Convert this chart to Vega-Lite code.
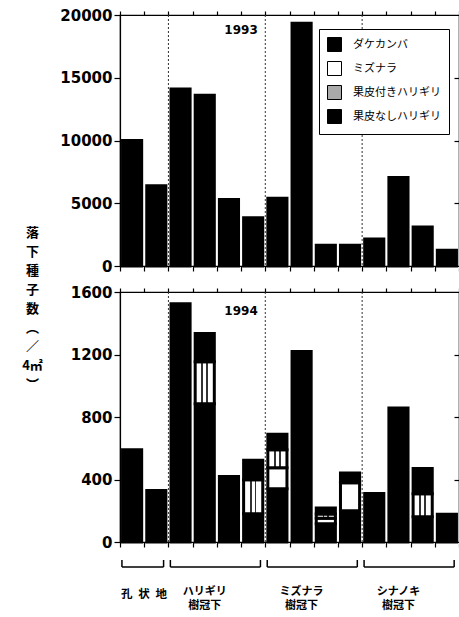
{
  "$schema": "https://vega.github.io/schema/vega-lite/v6.json",
  "background": "white",
  "padding": {"left": 21, "top": 7, "right": 0, "bottom": 0},
  "spacing": 26,
  "bounds": "flush",
  "resolve": {"scale": {"fill": "independent", "x": "independent", "y": "independent"}},
  "config": {
    "view": {"stroke": "black", "strokeWidth": 1.2},
    "font": "Noto Sans CJK JP",
    "axis": {"domainColor": "black", "tickColor": "black", "labelColor": "black", "grid": false, "labelFont": "DejaVu Sans", "labelFontWeight": "bold", "labelFontSize": 15, "tickWidth": 1.2, "domainWidth": 1.2}
  },
  "datasets": {
    "seeds": [
      {"year": 1993, "b": 1, "species": "ダケカンバ", "value": 10000},
      {"year": 1993, "b": 2, "species": "ダケカンバ", "value": 6400},
      {"year": 1993, "b": 3, "species": "ダケカンバ", "value": 14100},
      {"year": 1993, "b": 4, "species": "ダケカンバ", "value": 13600},
      {"year": 1993, "b": 5, "species": "ダケカンバ", "value": 5300},
      {"year": 1993, "b": 6, "species": "ダケカンバ", "value": 3850},
      {"year": 1993, "b": 7, "species": "ダケカンバ", "value": 5400},
      {"year": 1993, "b": 8, "species": "ダケカンバ", "value": 19350},
      {"year": 1993, "b": 9, "species": "ダケカンバ", "value": 1650},
      {"year": 1993, "b": 10, "species": "ダケカンバ", "value": 1650},
      {"year": 1993, "b": 11, "species": "ダケカンバ", "value": 2150},
      {"year": 1993, "b": 12, "species": "ダケカンバ", "value": 7050},
      {"year": 1993, "b": 13, "species": "ダケカンバ", "value": 3100},
      {"year": 1993, "b": 14, "species": "ダケカンバ", "value": 1250},
      {"year": 1994, "b": 1, "species": "ダケカンバ", "value": 590},
      {"year": 1994, "b": 2, "species": "ダケカンバ", "value": 330},
      {"year": 1994, "b": 3, "species": "ダケカンバ", "value": 1525},
      {"year": 1994, "b": 4, "species": "ダケカンバ", "value": 885},
      {"year": 1994, "b": 4, "species": "果皮付きハリギリ", "value": 269},
      {"year": 1994, "b": 4, "species": "果皮なしハリギリ", "value": 180},
      {"year": 1994, "b": 5, "species": "ダケカンバ", "value": 420},
      {"year": 1994, "b": 6, "species": "ダケカンバ", "value": 181},
      {"year": 1994, "b": 6, "species": "果皮付きハリギリ", "value": 218},
      {"year": 1994, "b": 6, "species": "果皮なしハリギリ", "value": 124},
      {"year": 1994, "b": 7, "species": "ダケカンバ", "value": 341},
      {"year": 1994, "b": 7, "species": "ミズナラ", "value": 135},
      {"year": 1994, "b": 7, "species": "果皮付きハリギリ", "value": 115},
      {"year": 1994, "b": 7, "species": "果皮なしハリギリ", "value": 99},
      {"year": 1994, "b": 8, "species": "ダケカンバ", "value": 1220},
      {"year": 1994, "b": 9, "species": "ダケカンバ", "value": 117},
      {"year": 1994, "b": 9, "species": "ミズナラ", "value": 35},
      {"year": 1994, "b": 9, "species": "果皮付きハリギリ", "value": 28},
      {"year": 1994, "b": 9, "species": "果皮なしハリギリ", "value": 38},
      {"year": 1994, "b": 10, "species": "ダケカンバ", "value": 200},
      {"year": 1994, "b": 10, "species": "ミズナラ", "value": 180},
      {"year": 1994, "b": 10, "species": "果皮なしハリギリ", "value": 62},
      {"year": 1994, "b": 11, "species": "ダケカンバ", "value": 310},
      {"year": 1994, "b": 12, "species": "ダケカンバ", "value": 858},
      {"year": 1994, "b": 13, "species": "ダケカンバ", "value": 162},
      {"year": 1994, "b": 13, "species": "果皮付きハリギリ", "value": 147},
      {"year": 1994, "b": 13, "species": "果皮なしハリギリ", "value": 161},
      {"year": 1994, "b": 14, "species": "ダケカンバ", "value": 178}
    ],
    "bounds": [{"b": 3}, {"b": 7}, {"b": 11}],
    "groups": [
      {"group": "孔状地", "first": 1, "last": 2},
      {"group": "ハリギリ樹冠下", "first": 3, "last": 6},
      {"group": "ミズナラ樹冠下", "first": 7, "last": 10},
      {"group": "シナノキ樹冠下", "first": 11, "last": 14}
    ]
  },
  "vconcat": [
    {
      "width": 339,
      "height": 251,
      "layer": [
        {
          "data": {"name": "seeds"},
          "transform": [
            {"filter": "datum.year == 1993"},
            {"calculate": "indexof(['ダケカンバ','ミズナラ','果皮付きハリギリ','果皮なしハリギリ'], datum.species)", "as": "k"}
          ],
          "mark": {"type": "bar", "width": {"band": 0.79}, "stroke": "black", "strokeWidth": 3},
          "encoding": {
            "x": {"field": "b", "type": "ordinal", "scale": {"domain": [1,2,3,4,5,6,7,8,9,10,11,12,13,14], "paddingInner": 0, "paddingOuter": 0},
                  "axis": {"orient": "bottom", "labels": false, "title": null, "tickBand": "extent", "tickSize": 5}},
            "y": {"field": "value", "type": "quantitative", "stack": "zero", "scale": {"domain": [0, 20000], "nice": false},
                  "axis": {"orient": "left", "values": [0, 5000, 10000, 15000, 20000], "format": "d", "tickSize": 6, "labelPadding": 2,
                           "title": ["落", "下", "種", "子", "数", "︵", "／", "4㎡", "︶"],
                           "titleAngle": 0, "titleFont": "Noto Sans CJK JP", "titleFontWeight": "bold", "titleFontSize": 13,
                           "titleLineHeight": 19, "titleAlign": "center", "titleBaseline": "top", "titleX": -88, "titleY": 211, "titleColor": "black"}},
            "fill": {
              "condition": {"test": "datum.species === '果皮付きハリギリ'",
                "value": {"gradient": "linear", "x1": 0, "y1": 0, "x2": 1, "y2": 0,
                  "stops": [{"offset": 0, "color": "white"}, {"offset": 0.33, "color": "white"}, {"offset": 0.33, "color": "#333"}, {"offset": 0.42, "color": "#333"}, {"offset": 0.42, "color": "white"}, {"offset": 0.58, "color": "white"}, {"offset": 0.58, "color": "#333"}, {"offset": 0.67, "color": "#333"}, {"offset": 0.67, "color": "white"}, {"offset": 1, "color": "white"}]}},
              "field": "species", "type": "nominal",
              "scale": {"domain": ["ダケカンバ", "ミズナラ", "果皮付きハリギリ", "果皮なしハリギリ"], "range": ["black", "white", "#aaaaaa", "black"]},
              "legend": {"orient": "none", "legendX": 199, "legendY": 14, "title": null, "strokeColor": "black", "fillColor": "white",
                         "padding": 8, "symbolType": "square", "symbolSize": 196, "symbolStrokeColor": "black", "symbolStrokeWidth": 1,
                         "labelFont": "Noto Sans CJK JP", "labelFontSize": 11, "labelColor": "black", "rowPadding": 5, "labelOffset": 11}
            },
            "order": {"field": "k", "type": "quantitative"}
          }
        },
        {
          "data": {"name": "bounds"},
          "mark": {"type": "rule", "color": "#333", "strokeDash": [2, 2], "strokeWidth": 1},
          "encoding": {
            "x": {"field": "b", "type": "ordinal", "bandPosition": 0,
                  "axis": {"orient": "top", "labels": false, "title": null, "tickBand": "extent", "tickSize": 4, "domain": false}}
          }
        },
        {
          "data": {"values": [{"label": "1993"}]},
          "mark": {"type": "text", "font": "DejaVu Sans", "fontWeight": "bold", "fontSize": 12, "align": "center", "baseline": "middle", "color": "black"},
          "encoding": {
            "x": {"datum": 5, "type": "ordinal", "bandPosition": 1, "axis": null},
            "y": {"datum": 18800, "type": "quantitative", "axis": {"orient": "right", "labels": false, "title": null, "tickSize": 5, "offset": -5, "values": [5000, 10000, 15000], "domain": false}},
            "text": {"field": "label"}
          }
        }
      ]
    },
    {
      "vconcat": [
        {
          "width": 339,
          "height": 250,
          "layer": [
            {
              "data": {"name": "seeds"},
              "transform": [
                {"filter": "datum.year == 1994"},
                {"calculate": "indexof(['ダケカンバ','ミズナラ','果皮付きハリギリ','果皮なしハリギリ'], datum.species)", "as": "k"}
              ],
              "mark": {"type": "bar", "width": {"band": 0.79}, "stroke": "black", "strokeWidth": 3},
              "encoding": {
                "x": {"field": "b", "type": "ordinal", "scale": {"domain": [1,2,3,4,5,6,7,8,9,10,11,12,13,14], "paddingInner": 0, "paddingOuter": 0},
                      "axis": {"orient": "bottom", "labels": false, "title": null, "tickBand": "extent", "tickSize": 5}},
                "y": {"field": "value", "type": "quantitative", "stack": "zero", "scale": {"domain": [0, 1600], "nice": false},
                      "axis": {"orient": "left", "values": [0, 400, 800, 1200, 1600], "format": "d", "tickSize": 6, "labelPadding": 2, "title": null}},
                "fill": {
                  "condition": {"test": "datum.species === '果皮付きハリギリ'",
                    "value": {"gradient": "linear", "x1": 0, "y1": 0, "x2": 1, "y2": 0,
                      "stops": [{"offset": 0, "color": "white"}, {"offset": 0.33, "color": "white"}, {"offset": 0.33, "color": "#333"}, {"offset": 0.42, "color": "#333"}, {"offset": 0.42, "color": "white"}, {"offset": 0.58, "color": "white"}, {"offset": 0.58, "color": "#333"}, {"offset": 0.67, "color": "#333"}, {"offset": 0.67, "color": "white"}, {"offset": 1, "color": "white"}]}},
                  "field": "species", "type": "nominal",
                  "scale": {"domain": ["ダケカンバ", "ミズナラ", "果皮付きハリギリ", "果皮なしハリギリ"], "range": ["black", "white", "#aaaaaa", "black"]},
                  "legend": null
                },
                "order": {"field": "k", "type": "quantitative"}
              }
            },
            {
              "data": {"name": "bounds"},
              "mark": {"type": "rule", "color": "#333", "strokeDash": [2, 2], "strokeWidth": 1},
              "encoding": {
                "x": {"field": "b", "type": "ordinal", "bandPosition": 0,
                      "axis": {"orient": "top", "labels": false, "title": null, "tickBand": "extent", "tickSize": 4, "domain": false}}
              }
            },
            {
              "data": {"values": [{"label": "1994"}]},
              "mark": {"type": "text", "font": "DejaVu Sans", "fontWeight": "bold", "fontSize": 12, "align": "center", "baseline": "middle", "color": "black"},
              "encoding": {
                "x": {"datum": 5, "type": "ordinal", "bandPosition": 1, "axis": null},
                "y": {"datum": 1480, "type": "quantitative", "axis": {"orient": "right", "labels": false, "title": null, "tickSize": 5, "offset": -5, "values": [400, 800, 1200], "domain": false}},
                "text": {"field": "label"}
              }
            }
          ]
        },
        {
          "width": 339,
          "height": 7,
          "view": {"stroke": null},
          "data": {"name": "groups"},
          "resolve": {"axis": {"x": "independent"}},
          "layer": [
            {
              "mark": {"type": "rule", "color": "black", "strokeWidth": 1.5},
              "encoding": {
                "x": {"field": "first", "type": "ordinal", "bandPosition": 0.08,
                      "scale": {"domain": [1,2,3,4,5,6,7,8,9,10,11,12,13,14], "paddingInner": 0, "paddingOuter": 0},
                      "axis": {"orient": "bottom", "values": [4, 8, 12], "title": null, "ticks": false, "domain": false, "labelOffset": 0,
                               "labelExpr": "datum.value == 4 ? ['ハリギリ', '樹冠下'] : datum.value == 8 ? ['ミズナラ', '樹冠下'] : ['シナノキ', '樹冠下']",
                               "labelFont": "Noto Sans CJK JP", "labelFontWeight": "bold", "labelFontSize": 11, "labelLineHeight": 14.5,
                               "labelBaseline": "middle", "labelAngle": 0, "labelPadding": 24, "labelOverlap": false, "labelBound": false, "labelFlush": false}},
                "x2": {"field": "last", "bandPosition": 0.8},
                "y": {"datum": 0, "type": "quantitative", "scale": {"domain": [0, 1]}, "axis": null}
              }
            },
            {
              "mark": {"type": "rule", "color": "black", "strokeWidth": 1.5},
              "encoding": {
                "x": {"field": "first", "type": "ordinal", "bandPosition": 0.08,
                      "axis": {"orient": "bottom", "values": [1], "title": null, "ticks": false, "domain": false, "labelOffset": 12,
                               "labelExpr": "'孔\u2002状\u2002地'",
                               "labelFont": "Noto Sans CJK JP", "labelFontWeight": "bold", "labelFontSize": 11.5,
                               "labelBaseline": "middle", "labelAngle": 0, "labelPadding": 27, "labelOverlap": false, "labelBound": false, "labelFlush": false}},
                "y": {"datum": 0, "type": "quantitative"},
                "y2": {"datum": 1}
              }
            },
            {
              "mark": {"type": "rule", "color": "black", "strokeWidth": 1.5},
              "encoding": {
                "x": {"field": "last", "type": "ordinal", "bandPosition": 0.8, "axis": null},
                "y": {"datum": 0, "type": "quantitative"},
                "y2": {"datum": 1}
              }
            }
          ]
        }
      ],
      "spacing": 18,
      "bounds": "flush"
    }
  ]
}
